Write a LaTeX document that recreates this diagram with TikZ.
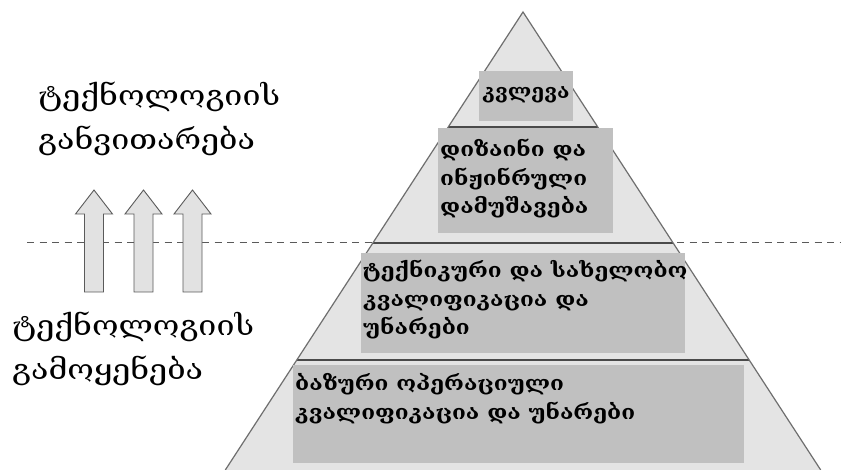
\documentclass[tikz,border=0pt]{standalone}
\usepackage{fontspec}
\setmainfont{DejaVu Serif}
\newfontfamily\geofont[FakeStretch=1.15]{DejaVu Serif}
\newfontfamily\geobold[FakeStretch=1.13]{DejaVu Serif Bold}
\newfontfamily\geoboldnarrow[FakeStretch=1.05]{DejaVu Serif Bold}
\definecolor{layerfill}{HTML}{E4E4E4}
\definecolor{boxfill}{HTML}{C0C0C0}
\definecolor{edgegray}{HTML}{6E6E6E}
\definecolor{linegray}{HTML}{4A4A4A}
\definecolor{arrowfill}{HTML}{E2E2E2}
\definecolor{arrowedge}{HTML}{5A5A5A}
\begin{document}
\begin{tikzpicture}[x=1pt,y=-1pt,
  sidelabel/.style={anchor=base west, inner sep=0pt, align=left,
    font=\geofont\fontsize{28}{44}\selectfont},
  levelbox/.style={fill=boxfill, draw=none, anchor=north west, inner sep=0pt},
  boxtext/.style={anchor=base west, inner sep=0pt, align=left,
    font=\geobold\fontsize{20}{28.5}\selectfont},
  levelline/.style={draw=linegray, line width=1.6pt},
  blockarrow/.style={fill=arrowfill, draw=arrowedge, line width=0.9pt, line join=miter},
  splitline/.style={draw=arrowedge, line width=1pt, dash pattern=on 7pt off 5.5pt}
]
\useasboundingbox (0,0) rectangle (841,470);
\fill[white] (0,0) rectangle (841,470);

% dashed boundary between development and application
\coordinate (dashL) at (27,243);
\coordinate (dashR) at (841,243);
\draw[splitline] (dashL) -- (dashR);

% three upward block arrows
\foreach \cx in {94,143.5,192.5}{
  \draw[blockarrow] (\cx-9.5,292) -- (\cx-9.5,214) -- (\cx-18.5,214) -- (\cx,190)
    -- (\cx+18.5,214) -- (\cx+9.5,214) -- (\cx+9.5,292) -- cycle;
}

% pyramid body
\coordinate (apex) at (523,12);
\coordinate (baseL) at (225.3,470);
\coordinate (baseR) at (820.7,470);
\fill[layerfill] (apex) -- (baseR) -- (baseL) -- cycle;

% level separators
\draw[levelline] (448.3,127) -- (597.7,127);
\draw[levelline] (372.9,243) -- (673.1,243);
\draw[levelline] (296.8,360) -- (749.2,360);

% pyramid sides
\draw[edgegray, line width=1.2pt] (baseL) -- (apex) -- (baseR);

% level boxes
\node[levelbox, minimum width=94, minimum height=50] (lvA) at (479,71) {};
\node[levelbox, minimum width=175, minimum height=105] (lvB) at (438,128) {};
\node[levelbox, minimum width=324, minimum height=100] (lvC) at (361,253) {};
\node[levelbox, minimum width=451, minimum height=98] (lvD) at (293,365) {};

% box captions (anchored at the baseline of their last line)
\node[boxtext, font=\geoboldnarrow\fontsize{20}{28.5}\selectfont, anchor=base] (txA) at (526,99) {კვლევა};
\node[boxtext] (txB) at (440,214) {დიზაინი და\\ინჟინრული\\დამუშავება};
\node[boxtext] (txC) at (363,335) {ტექნიკური და სახელობო\\კვალიფიკაცია და\\უნარები};
\node[boxtext] (txD) at (295,419) {ბაზური ოპერაციული\\კვალიფიკაცია და უნარები};

% side labels
\node[sidelabel] (dev) at (38,150) {ტექნოლოგიის\\განვითარება};
\node[sidelabel] (use) at (12,380) {ტექნოლოგიის\\გამოყენება};
\end{tikzpicture}
\end{document}
